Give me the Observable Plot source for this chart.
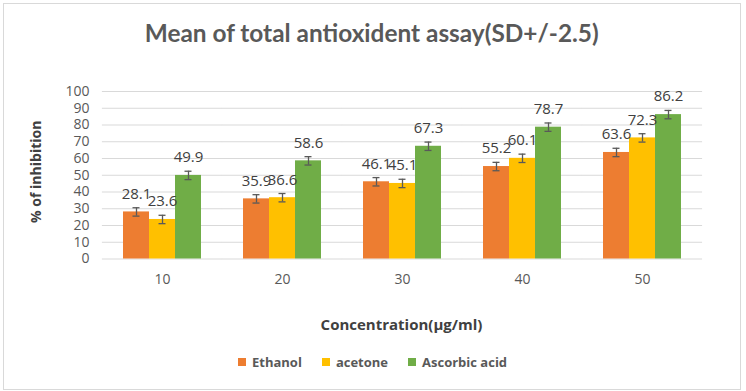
<!DOCTYPE html>
<html>
<head>
<meta charset="utf-8">
<script src="https://cdn.jsdelivr.net/npm/d3@7"></script>
<script src="https://cdn.jsdelivr.net/npm/@observablehq/plot@0.6"></script>
<style>
  body { margin: 0; background: #fff; }
  #chart { position: relative; margin: 3px 0 0 3px; box-sizing: border-box; width: 738px; height: 387px;
           border: 1px solid #d9d9d9; background: #fff; font-family: "Open Sans", sans-serif; }
  #title { height: 57px; box-sizing: border-box; padding-top: 13px; text-align: center; }
  #title span { display: inline-block; font-family: Lato, "Open Sans", sans-serif; font-weight: bold;
                font-size: 25px; line-height: 30px; color: #595959; transform-origin: center; white-space: nowrap; }
  #plot svg { display: block; }
  #xtitle { margin-left: 96px; width: 603px; height: 46px; line-height: 46px; text-align: center;
            font-weight: bold; font-size: 15px; color: #404040; }
  #legend { display: flex; align-items: center; height: 30px; padding-left: 234px;
            font-size: 13px; font-weight: bold; color: #595959; }
  .item { display: flex; align-items: center; margin-right: 20px; }
  .sw { width: 8px; height: 8px; margin-right: 6px; }
</style>
</head>
<body>
<div id="chart">
  <div id="title"><span>Mean of total antioxident assay(SD+/-2.5)</span></div>
  <div id="plot"></div>
  <div id="xtitle">Concentration(µg/ml)</div>
  <div id="legend"></div>
</div>
<script>
const concentrations = [10, 20, 30, 40, 50];
const seriesNames = ["Ethanol", "acetone", "Ascorbic acid"];
const ethanol = [28.1, 35.9, 46.1, 55.2, 63.6];
const acetone = [23.6, 36.6, 45.1, 60.1, 72.3];
const ascorbic = [49.9, 58.6, 67.3, 78.7, 86.2];
const sd = 2.5;
const colors = ["#ED7D31", "#FFC000", "#70AD47"];
const yTicks = [0, 10, 20, 30, 40, 50, 60, 70, 80, 90, 100];
const yLabel = "% of inhibition";

const seriesValues = [ethanol, acetone, ascorbic];
const data = [];
concentrations.forEach((c, i) => {
  seriesNames.forEach((s, j) => data.push({conc: c, series: s, value: seriesValues[j][i]}));
});

// half of the gap between facets, so grid lines run continuously across the plot
const plotW = 736 - 96 - 37;
const halfGap = (plotW / concentrations.length) / 6;

const chart = Plot.plot({
  width: 736,
  height: 240,
  marginTop: 30,
  marginBottom: 42.5,
  marginLeft: 96,
  marginRight: 37,
  style: {fontFamily: "'Open Sans', sans-serif", fontSize: "14px", color: "#595959", background: "#fff"},
  fx: {domain: concentrations, paddingInner: 1/3, paddingOuter: 1/6, label: null},
  x: {domain: seriesNames, padding: 0, axis: null},
  y: {domain: [0, 100], axis: null},
  color: {domain: seriesNames, range: colors},
  marks: [
    Plot.ruleY(yTicks, {y: d => d, stroke: "#d9d9d9", strokeWidth: 1, insetLeft: -halfGap, insetRight: -halfGap}),
    Plot.axisY({ticks: yTicks, tickSize: 0, tickPadding: 13 + halfGap, fontSize: 14, label: null}),
    Plot.axisFx({anchor: "bottom", tickSize: 0, tickPadding: 15, fontSize: 14, label: null}),
    Plot.barY(data, {fx: "conc", x: "series", y: "value", fill: "series"}),
    Plot.ruleX(data, {fx: "conc", x: "series", y1: d => d.value - sd, y2: d => d.value + sd, stroke: "#595959", strokeWidth: 1.3}),
    Plot.tickY(data, {fx: "conc", x: "series", y: d => d.value + sd, stroke: "#595959", strokeWidth: 1.3, insetLeft: 9.5, insetRight: 9.5}),
    Plot.tickY(data, {fx: "conc", x: "series", y: d => d.value - sd, stroke: "#595959", strokeWidth: 1.3, insetLeft: 9.5, insetRight: 9.5}),
    Plot.text(data, {fx: "conc", x: "series", y: "value", text: d => d.value.toFixed(1), dy: -18, fontSize: 15, fill: "#404040"}),
    Plot.text([yLabel], {text: d => d, frameAnchor: "left", textAnchor: "middle", dx: -66 - halfGap, dy: -3.5, rotate: -90, fontSize: 14, fontWeight: "bold", fill: "#404040", facet: "super"})
  ]
});
document.getElementById("plot").appendChild(chart);

const legend = document.getElementById("legend");
seriesNames.forEach((s, i) => {
  const item = document.createElement("div");
  item.className = "item";
  const sw = document.createElement("div");
  sw.className = "sw";
  sw.style.background = colors[i];
  const t = document.createElement("span");
  t.textContent = s;
  item.appendChild(sw); item.appendChild(t);
  legend.appendChild(item);
});

function fitTitle() {
  const tspan = document.querySelector("#title span");
  tspan.style.transform = "";
  const w = tspan.getBoundingClientRect().width;
  if (w > 454) tspan.style.transform = `scaleX(${454 / w})`;
}
fitTitle();
if (document.fonts && document.fonts.ready) document.fonts.ready.then(fitTitle);
</script>
</body>
</html>
